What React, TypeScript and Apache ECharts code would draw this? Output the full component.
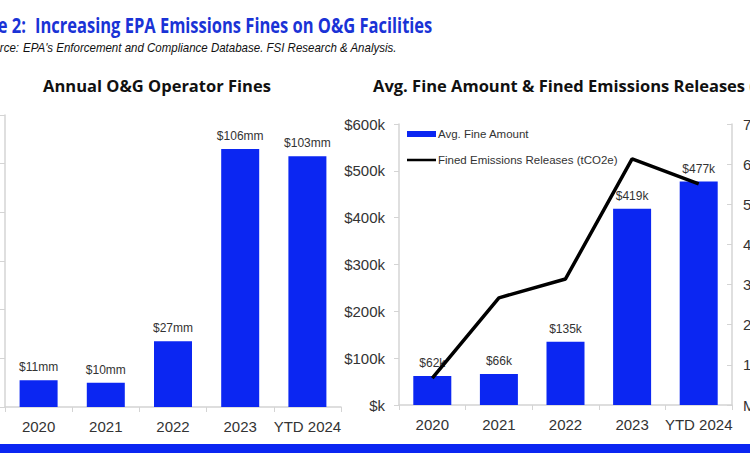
import React, { useEffect, useRef } from "react";
import * as echarts from "echarts";

const categories = ["2020", "2021", "2022", "2023", "YTD 2024"];
const annualFinesMM = [11, 10, 27, 106, 103];
const avgFineK = [62, 66, 135, 419, 477];
const emissionsM = [0.67, 2.67, 3.14, 6.13, 5.51];
const seriesNames = ["Avg. Fine Amount", "Fined Emissions Releases (tCO2e)"];

const BLUE = "#0b26f2";
const TITLE_BLUE = "#1a33d6";
const AXIS_GRAY = "#d4d4d4";
const TXT = "#333333";
const SANS = "'Liberation Sans', Arial, sans-serif";
const HEAD = "'Open Sans', 'Noto Sans', sans-serif";

export default function App() {
  const ref = useRef<HTMLDivElement>(null);
  useEffect(() => {
    if (!ref.current) return;
    const chart = echarts.init(ref.current, null, { renderer: "svg" });
    const option: any = {
      animation: false,
      backgroundColor: "#ffffff",
      textStyle: { fontFamily: SANS },
      graphic: [
        {
          type: "text", x: 26, y: 25, scaleX: 0.75,
          style: { text: "Figure 2:", fill: TITLE_BLUE, font: "bold 22px " + HEAD, textAlign: "right", textVerticalAlign: "middle" },
        },
        {
          type: "text", x: 35, y: 25, scaleX: 0.75,
          style: { text: "Increasing EPA Emissions Fines on O&G Facilities", fill: TITLE_BLUE, font: "bold 22px " + HEAD, textAlign: "left", textVerticalAlign: "middle" },
        },
        {
          type: "text", x: 19, y: 48, scaleX: 0.885,
          style: { text: "Source:", fill: "#111", font: "italic 13px " + SANS, textAlign: "right", textVerticalAlign: "middle" },
        },
        {
          type: "text", x: 23, y: 48, scaleX: 0.885,
          style: { text: "EPA's Enforcement and Compliance Database. FSI Research & Analysis.", fill: "#111", font: "italic 13px " + SANS, textAlign: "left", textVerticalAlign: "middle" },
        },
        {
          type: "text", x: 157, y: 85,
          style: { text: "Annual O&G Operator Fines", fill: "#111", font: "bold 16.5px " + HEAD, textAlign: "center", textVerticalAlign: "middle" },
        },
        {
          type: "text", x: 373, y: 85,
          style: { text: "Avg. Fine Amount & Fined Emissions Releases (tCO2e)", fill: "#111", font: "bold 16.5px " + HEAD, textAlign: "left", textVerticalAlign: "middle" },
        },
        {
          type: "rect", shape: { x: 0, y: 444, width: 750, height: 9 },
          style: { fill: BLUE },
        },
      ],
      legend: {
        left: 407, top: 128, orient: "vertical", itemWidth: 29, itemHeight: 6, itemGap: 14, padding: 0,
        data: [
          { name: seriesNames[0], icon: "rect" },
          { name: seriesNames[1], icon: "path://M0,0L30,0L30,2.6L0,2.6Z" },
        ],
        textStyle: { fontSize: 11.5, color: TXT, fontFamily: SANS, padding: [0, 0, 0, -3] },
      },
      grid: [
        { left: 5, right: 409, top: 115, bottom: 50, outerBoundsMode: "none", containLabel: false },
        { left: 399, right: 18, top: 124, bottom: 52, outerBoundsMode: "none", containLabel: false },
      ],
      xAxis: [
        {
          type: "category", gridIndex: 0, data: categories,
          axisLine: { lineStyle: { color: AXIS_GRAY, width: 1.5 } },
          axisTick: { show: true, lineStyle: { color: AXIS_GRAY } },
          axisLabel: { fontSize: 15, color: TXT, margin: 12, interval: 0 },
        },
        {
          type: "category", gridIndex: 1, data: categories,
          axisLine: { lineStyle: { color: AXIS_GRAY, width: 1.5 } },
          axisTick: { show: true, lineStyle: { color: AXIS_GRAY } },
          axisLabel: { fontSize: 15, color: TXT, margin: 12, interval: 0 },
        },
      ],
      yAxis: [
        {
          type: "value", gridIndex: 0, min: 0, max: 120, interval: 20,
          axisLine: { show: true, lineStyle: { color: AXIS_GRAY, width: 1.5 } },
          axisTick: { show: true, length: 5, lineStyle: { color: AXIS_GRAY } },
          axisLabel: { show: false },
          splitLine: { show: false },
        },
        {
          type: "value", gridIndex: 1, min: 0, max: 600, interval: 100,
          axisLine: { show: true, lineStyle: { color: AXIS_GRAY, width: 1.5 } },
          axisTick: { show: true, length: 5, lineStyle: { color: AXIS_GRAY } },
          axisLabel: { fontSize: 15, color: TXT, margin: 14, formatter: (v: number) => (v === 0 ? "$k" : "$" + v + "k") },
          splitLine: { show: false },
        },
        {
          type: "value", gridIndex: 1, position: "right", min: 0, max: 7, interval: 1,
          axisLine: { show: true, lineStyle: { color: AXIS_GRAY, width: 1.5 } },
          axisTick: { show: true, inside: true, length: 5, lineStyle: { color: AXIS_GRAY } },
          axisLabel: { fontSize: 15, color: TXT, margin: 11, formatter: (v: number) => (v === 0 ? "M" : v + "M") },
          splitLine: { show: false },
        },
      ],
      series: [
        {
          type: "bar", xAxisIndex: 0, yAxisIndex: 0, data: annualFinesMM, barWidth: 38,
          itemStyle: { color: BLUE },
          label: { show: true, position: "top", distance: 7, fontSize: 12, color: TXT, formatter: (p: any) => "$" + p.value + "mm" },
        },
        {
          name: seriesNames[0], type: "bar", xAxisIndex: 1, yAxisIndex: 1, data: avgFineK, barWidth: 38,
          itemStyle: { color: BLUE },
          label: { show: true, position: "top", distance: 7, fontSize: 12, color: TXT, formatter: (p: any) => "$" + p.value + "k" },
        },
        {
          name: seriesNames[1], type: "line", xAxisIndex: 1, yAxisIndex: 2, data: emissionsM,
          symbol: "none", lineStyle: { color: "#000000", width: 3.5 }, itemStyle: { color: "#000000" },
          z: 5,
        },
      ],
    };
    chart.setOption(option);
    return () => chart.dispose();
  }, []);
  return <div ref={ref} style={{ width: 750, height: 457, position: "fixed", left: 0, top: 0 }} />;
}
